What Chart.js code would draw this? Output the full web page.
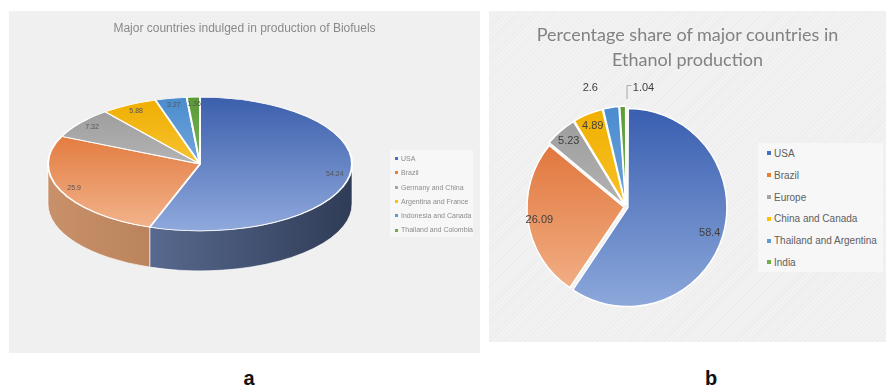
<!DOCTYPE html>
<html>
<head>
<meta charset="utf-8">
<script src="https://cdn.jsdelivr.net/npm/chart.js@4.4.1/dist/chart.umd.min.js"></script>
<style>
    body { margin: 0; background: #fff; }
    #wrap { position: relative; width: 886px; height: 386px; overflow: hidden; font-family: "Liberation Sans", Arial, sans-serif; }
    .panel { position: absolute; }
    #panelA { left: 9px; top: 11px; width: 471px; height: 342px; background: #f0f0f0; }
    #panelB { left: 489px; top: 11px; width: 397px; height: 331px;
        background: repeating-linear-gradient(135deg, #ededed 0 1px, #f2f2f2 1px 3px); }
    canvas { position: absolute; left: 0; top: 0; }
    .title { position: absolute; left: 0; right: 0; text-align: center; color: #8a8a8a; }
    #titleA { top: 10px; font-size: 12px; line-height: 14px; }
    #titleB { top: 11px; font-family: Lato, sans-serif; font-size: 18px; line-height: 25px; color: #828282; }
    .legend { position: absolute; background: #f7f7f7; }
    #legendA { left: 381px; top: 139px; width: 83px; height: 87px; padding-top: 2px; box-sizing: border-box;
        font-size: 7px; line-height: 14.3px; color: #8c8c8c; }
    #legendB { left: 269px; top: 132px; width: 125px; height: 129px; box-sizing: border-box; padding-left: 9px;
        font-size: 10px; line-height: 21.8px; color: #606060; }
    .item { white-space: nowrap; }
    .sw { display: inline-block; vertical-align: middle; margin-right: 3px; }
    #legendA .sw { width: 3px; height: 3px; margin-left: 5px; margin-top: -1px; }
    #legendB .sw { width: 4px; height: 4px; margin-top: -2px; }
    .cap { position: absolute; top: 368px; width: 40px; margin-left: -20px; text-align: center;
        font-size: 20px; line-height: 20px; font-weight: bold; color: #111; }
</style>
</head>
<body>
<div id="wrap">
    <div class="panel" id="panelA">
        <canvas id="chartA" width="471" height="342"></canvas>
        <div class="title" id="titleA">Major countries indulged in production of Biofuels</div>
        <div class="legend" id="legendA"></div>
    </div>
    <div class="panel" id="panelB">
        <canvas id="chartB" width="397" height="331"></canvas>
        <div class="title" id="titleB">Percentage share of major countries in<br>Ethanol production</div>
        <div class="legend" id="legendB"></div>
    </div>
    <div class="cap" style="left:249px">a</div>
    <div class="cap" style="left:711px">b</div>
</div>

<script>
// biofuel production (left, 3-D pie)
const biofuelCountries = ["USA", "Brazil", "Germany and China", "Argentina and France", "Indonesia and Canada", "Thailand and Colombia"];
const biofuelShare = [54.24, 25.9, 7.32, 5.88, 3.27, 1.36];

// ethanol production (right, exploded pie)
const ethanolCountries = ["USA", "Brazil", "Europe", "China and Canada", "Thailand and Argentina", "India"];
const ethanolShare = [58.4, 26.09, 5.23, 4.89, 2.6, 1.04];

// office palette, plus top/bottom gradient stops per slice
const swatches = ["#4472C4", "#ED7D31", "#A5A5A5", "#FFC000", "#5B9BD5", "#70AD47"];
const topShadesA = [["#3c5fac", "#8fa9dc"], ["#dc6522", "#f3b58e"], ["#989898", "#cfcfcf"],
                    ["#efae00", "#ffd760"], ["#4a8bcd", "#9cc4ea"], ["#5a9a36", "#9ccc7c"]];
const sideShadesA = [["#6d80aa", "#2f3c57"], ["#c99169", "#9a6844"], ["#8a8a8a", "#6a6a6a"],
                     ["#c99a10", "#a07a00"], ["#4a7cb0", "#36618c"], ["#4f8530", "#3c6a22"]];
const shadesB = [["#3a5fb0", "#8ba7da"], ["#dd6a2c", "#f3b48c"], ["#9a9a9a", "#cccccc"],
                 ["#f0b000", "#ffd04a"], ["#4b8ccf", "#8cbce6"], ["#5d9c39", "#8cc36a"]];

function buildLegend(el, names) {
    names.forEach((name, i) => {
        const row = document.createElement("div");
        row.className = "item";
        row.innerHTML = `<span class="sw" style="background:${swatches[i]}"></span>${name}`;
        el.appendChild(row);
    });
}
buildLegend(document.getElementById("legendA"), biofuelCountries);
buildLegend(document.getElementById("legendB"), ethanolCountries);

// vertical gradient over the whole pie, one pair of stops per slice
function pieGradient(shades) {
    return (c) => {
        const chart = c.chart;
        const area = chart.chartArea;
        const pair = shades[c.dataIndex];
        if (!area) return pair[0];
        const cy = (area.top + area.bottom) / 2;
        const r = chart.options.radius;
        const g = chart.ctx.createLinearGradient(0, cy - r, 0, cy + r);
        g.addColorStop(0, pair[0]);
        g.addColorStop(1, pair[1]);
        return g;
    };
}

// squash the pie into an ellipse and draw the front wall under it
const pie3d = {
    id: "pie3d",
    beforeDatasetsDraw(chart, args, opts) {
        const ctx = chart.ctx;
        const arcs = chart.getDatasetMeta(0).data;
        const { x: cx, y: cy, outerRadius: r } = arcs[0].getProps(["x", "y", "outerRadius"], true);
        const depth = opts.depth / opts.tilt;
        ctx.save();
        ctx.translate(cx, cy);
        ctx.scale(1, opts.tilt);
        ctx.translate(-cx, -cy);
        arcs.forEach((arc, i) => {
            const p = arc.getProps(["startAngle", "endAngle"], true);
            const a0 = Math.max(p.startAngle, 0);
            const a1 = Math.min(p.endAngle, Math.PI);
            if (a1 <= a0) return;
            const g = ctx.createLinearGradient(cx - r, 0, cx + r, 0);
            g.addColorStop(0, opts.sides[i][0]);
            g.addColorStop(1, opts.sides[i][1]);
            ctx.beginPath();
            ctx.arc(cx, cy, r, a0, a1);
            ctx.arc(cx, cy + depth, r, a1, a0, true);
            ctx.closePath();
            ctx.fillStyle = g;
            ctx.fill();
            ctx.strokeStyle = "rgba(255,255,255,0.85)";
            ctx.lineWidth = 1;
            ctx.stroke();
        });
    },
    afterDatasetsDraw(chart) {
        chart.ctx.restore();
    }
};

// value labels; slices under `outsideBelow` get their label outside
const sliceLabels = {
    id: "sliceLabels",
    afterDatasetsDraw(chart, args, opts) {
        const ctx = chart.ctx;
        const values = chart.data.datasets[0].data;
        const arcs = chart.getDatasetMeta(0).data;
        const tilt = opts.tilt || 1;
        const last = values.length - 1;
        ctx.save();
        ctx.font = opts.font;
        ctx.fillStyle = opts.color;
        ctx.textAlign = "center";
        ctx.textBaseline = "middle";
        arcs.forEach((arc, i) => {
            const p = arc.getProps(["x", "y", "startAngle", "endAngle", "outerRadius"], true);
            const mid = (p.startAngle + p.endAngle) / 2;
            const off = arc.options.offset || 0;
            const text = String(values[i]);
            if (values[i] < (opts.outsideBelow || 0)) {
                const ex = p.x + Math.cos(mid) * (p.outerRadius + off);
                const ey = p.y + Math.sin(mid) * (p.outerRadius + off);
                if (i === last) {
                    ctx.strokeStyle = "#a6a6a6";
                    ctx.lineWidth = 1;
                    ctx.beginPath();
                    ctx.moveTo(ex + 4.5, ey - 3);
                    ctx.lineTo(ex + 4.5, ey - 16.5);
                    ctx.lineTo(ex + 9, ey - 16.5);
                    ctx.stroke();
                    ctx.fillText(text, ex + 21, ey - 14);
                } else {
                    ctx.fillText(text, ex - 20, ey - 15);
                }
                return;
            }
            const rr = p.outerRadius * opts.inside + off;
            ctx.fillText(text, p.x + Math.cos(mid) * rr, p.y + Math.sin(mid) * rr * tilt);
        });
        ctx.restore();
    }
};

new Chart(document.getElementById("chartA"), {
    type: "pie",
    data: {
        labels: biofuelCountries,
        datasets: [{
            data: biofuelShare,
            backgroundColor: pieGradient(topShadesA),
            borderColor: "#ffffff",
            borderWidth: 2,
        }],
    },
    options: {
        responsive: false,
        animation: false,
        radius: 152,
        layout: { padding: { right: 89, bottom: 36 } },
        plugins: {
            legend: { display: false },
            tooltip: { enabled: false },
            pie3d: { tilt: 0.44, depth: 40, sides: sideShadesA },
            sliceLabels: { tilt: 0.44, inside: 0.9, font: "7px 'Liberation Sans'", color: "#555555" },
        },
    },
    plugins: [pie3d, sliceLabels],
});

new Chart(document.getElementById("chartB"), {
    type: "pie",
    data: {
        labels: ethanolCountries,
        datasets: [{
            data: ethanolShare,
            backgroundColor: pieGradient(shadesB),
            borderColor: "#ffffff",
            borderWidth: 1.5,
            offset: 8,
        }],
    },
    options: {
        responsive: false,
        animation: false,
        radius: 97,
        layout: { padding: { right: 123, top: 61 } },
        plugins: {
            legend: { display: false },
            tooltip: { enabled: false },
            sliceLabels: { inside: 0.82, outsideBelow: 3, font: "11px 'Liberation Sans'", color: "#404040" },
        },
    },
    plugins: [sliceLabels],
});
</script>
</body>
</html>
